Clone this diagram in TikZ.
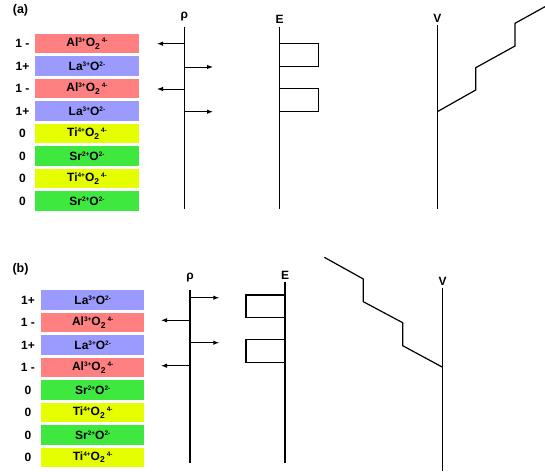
\documentclass[tikz,border=0pt]{standalone}
\usepackage{fontspec}
\setmainfont{Liberation Sans}
\usetikzlibrary{arrows.meta}
\newcommand\mysup[1]{\raisebox{4.2pt}{\fontsize{6.5}{6.5}\selectfont #1}}
\newcommand\mysub[1]{\raisebox{-2.4pt}{\fontsize{8.5}{8.5}\selectfont #1}}
\newcommand\AlO{Al\mysup{3+}O\mysub{2}\,\mysup{4-}}
\newcommand\LaO{La\mysup{3+}O\mysup{2-}}
\newcommand\TiO{Ti\mysup{4+}O\mysub{2}\,\mysup{4-}}
\newcommand\SrO{Sr\mysup{2+}O\mysup{2-}}
\definecolor{lred}{HTML}{FF8080}
\definecolor{lblue}{HTML}{9B9BFF}
\definecolor{lyel}{HTML}{E6FF00}
\definecolor{lgreen}{HTML}{3FE83F}
\begin{document}
\begin{tikzpicture}[x=1pt,y=-1pt,
  layer/.style={minimum height=19.5pt, inner sep=0pt, font=\bfseries\fontsize{12}{12}\selectfont},
  redl/.style={layer, fill=lred},
  bluel/.style={layer, fill=lblue},
  yell/.style={layer, fill=lyel},
  greenl/.style={layer, fill=lgreen},
  charge/.style={inner sep=0pt, font=\bfseries\fontsize{12}{12}\selectfont},
  axlabel/.style={inner sep=0pt, font=\bfseries\fontsize{12}{12}\selectfont},
  panel/.style={inner sep=0pt, font=\bfseries\fontsize{12.5}{12.5}\selectfont},
  axis/.style={line width=1.4pt},
  field/.style={line width=1.3pt},
  pot/.style={line width=1.2pt, line join=miter},
  charr/.style={line width=1pt, -{Latex[length=6pt,width=4.5pt]}}]
\useasboundingbox (0,0) rectangle (545,471);

% ---------------- panel (a)
\node[panel] (pa) at (20.5,10.5) {(a)};
\foreach \n/\st/\t/\c [count=\i from 0] in
  {a1/redl/\AlO/1 -, a2/bluel/\LaO/1+, a3/redl/\AlO/1 -, a4/bluel/\LaO/1+,
   a5/yell/\TiO/0, a6/greenl/\SrO/0, a7/yell/\TiO/0, a8/greenl/\SrO/0}{
  \node[\st, minimum width=104pt] (\n) at (87,43.5+22.5*\i) {\t};
  \node[charge] (\n c) at (22.5,43.5+22.5*\i) {\c};
}
% rho axis
\node[axlabel] (rhoa) at (184.3,17) {ρ};
\coordinate (rat) at (184.3,26.7);
\coordinate (rab) at (184.3,209);
\draw[axis] (rat) -- (rab);
\coordinate (ra1) at (184.3,43.7); \coordinate (ra1e) at (157,43.7);
\coordinate (ra2) at (184.3,67);   \coordinate (ra2e) at (213,67);
\coordinate (ra3) at (184.3,89);   \coordinate (ra3e) at (157,89);
\coordinate (ra4) at (184.3,111.7);\coordinate (ra4e) at (213,111.7);
\draw[charr] (ra1) -- (ra1e);
\draw[charr] (ra2) -- (ra2e);
\draw[charr] (ra3) -- (ra3e);
\draw[charr] (ra4) -- (ra4e);
% E axis
\node[axlabel] (ea) at (279.7,19.5) {E};
\coordinate (eat) at (279.7,26.7);
\coordinate (eab) at (279.7,209);
\draw[axis] (eat) -- (eab);
\draw[field] (279.7,43.7) -| (318.3,66.7) -- (279.7,66.7);
\draw[field] (279.7,88.7) -| (318.3,111.7) -- (279.7,111.7);
% V axis
\node[axlabel] (va) at (437.3,18) {V};
\coordinate (vat) at (437.3,25);
\coordinate (vab) at (437.3,208.7);
\draw[axis] (vat) -- (vab);
\coordinate (va0) at (437.3,111.7);
\draw[pot] (va0) -- (475.7,90) -- (475.7,67.7) -- (515,46) -- (515,23.3) -- (545,6.7);

% ---------------- panel (b)
\node[panel] (pb) at (20.5,269) {(b)};
\foreach \n/\st/\t/\c [count=\i from 0] in
  {b1/bluel/\LaO/1+, b2/redl/\AlO/1 -, b3/bluel/\LaO/1+, b4/redl/\AlO/1 -,
   b5/greenl/\SrO/0, b6/yell/\TiO/0, b7/greenl/\SrO/0, b8/yell/\TiO/0}{
  \node[\st, minimum width=103.3pt] (\n) at (92.7,300.2+22.45*\i) {\t};
  \node[charge] (\n c) at (28,300.2+22.45*\i) {\c};
}
% rho axis
\node[axlabel] (rhob) at (190,277.5) {ρ};
\coordinate (rbt) at (190,290);
\coordinate (rbb) at (190,463.3);
\draw[axis] (rbt) -- (rbb);
\coordinate (rb1) at (190,297.7); \coordinate (rb1e) at (219.3,297.7);
\coordinate (rb2) at (190,320.3); \coordinate (rb2e) at (161,320.3);
\coordinate (rb3) at (190,342.7); \coordinate (rb3e) at (219.3,342.7);
\coordinate (rb4) at (190,365.7); \coordinate (rb4e) at (161,365.7);
\draw[charr] (rb1) -- (rb1e);
\draw[charr] (rb2) -- (rb2e);
\draw[charr] (rb3) -- (rb3e);
\draw[charr] (rb4) -- (rb4e);
% E axis
\node[axlabel] (eb) at (285,275.5) {E};
\coordinate (ebt) at (285,281.7);
\coordinate (ebb) at (285,463.3);
\draw[axis] (ebt) -- (ebb);
\draw[field] (285,295) -| (246,317.7) -- (285,317.7);
\draw[field] (285,339.7) -| (246,362.3) -- (285,362.3);
% V axis
\node[axlabel] (vb) at (442.7,281) {V};
\coordinate (vbt) at (442.7,287.7);
\coordinate (vbb) at (442.7,471);
\draw[axis] (vbt) -- (vbb);
\coordinate (vb0) at (442.7,367.3);
\draw[pot] (324.3,257.3) -- (363.3,279) -- (363.3,301.7) -- (402.7,322.7) -- (402.7,345.7) -- (vb0);
\end{tikzpicture}
\end{document}
